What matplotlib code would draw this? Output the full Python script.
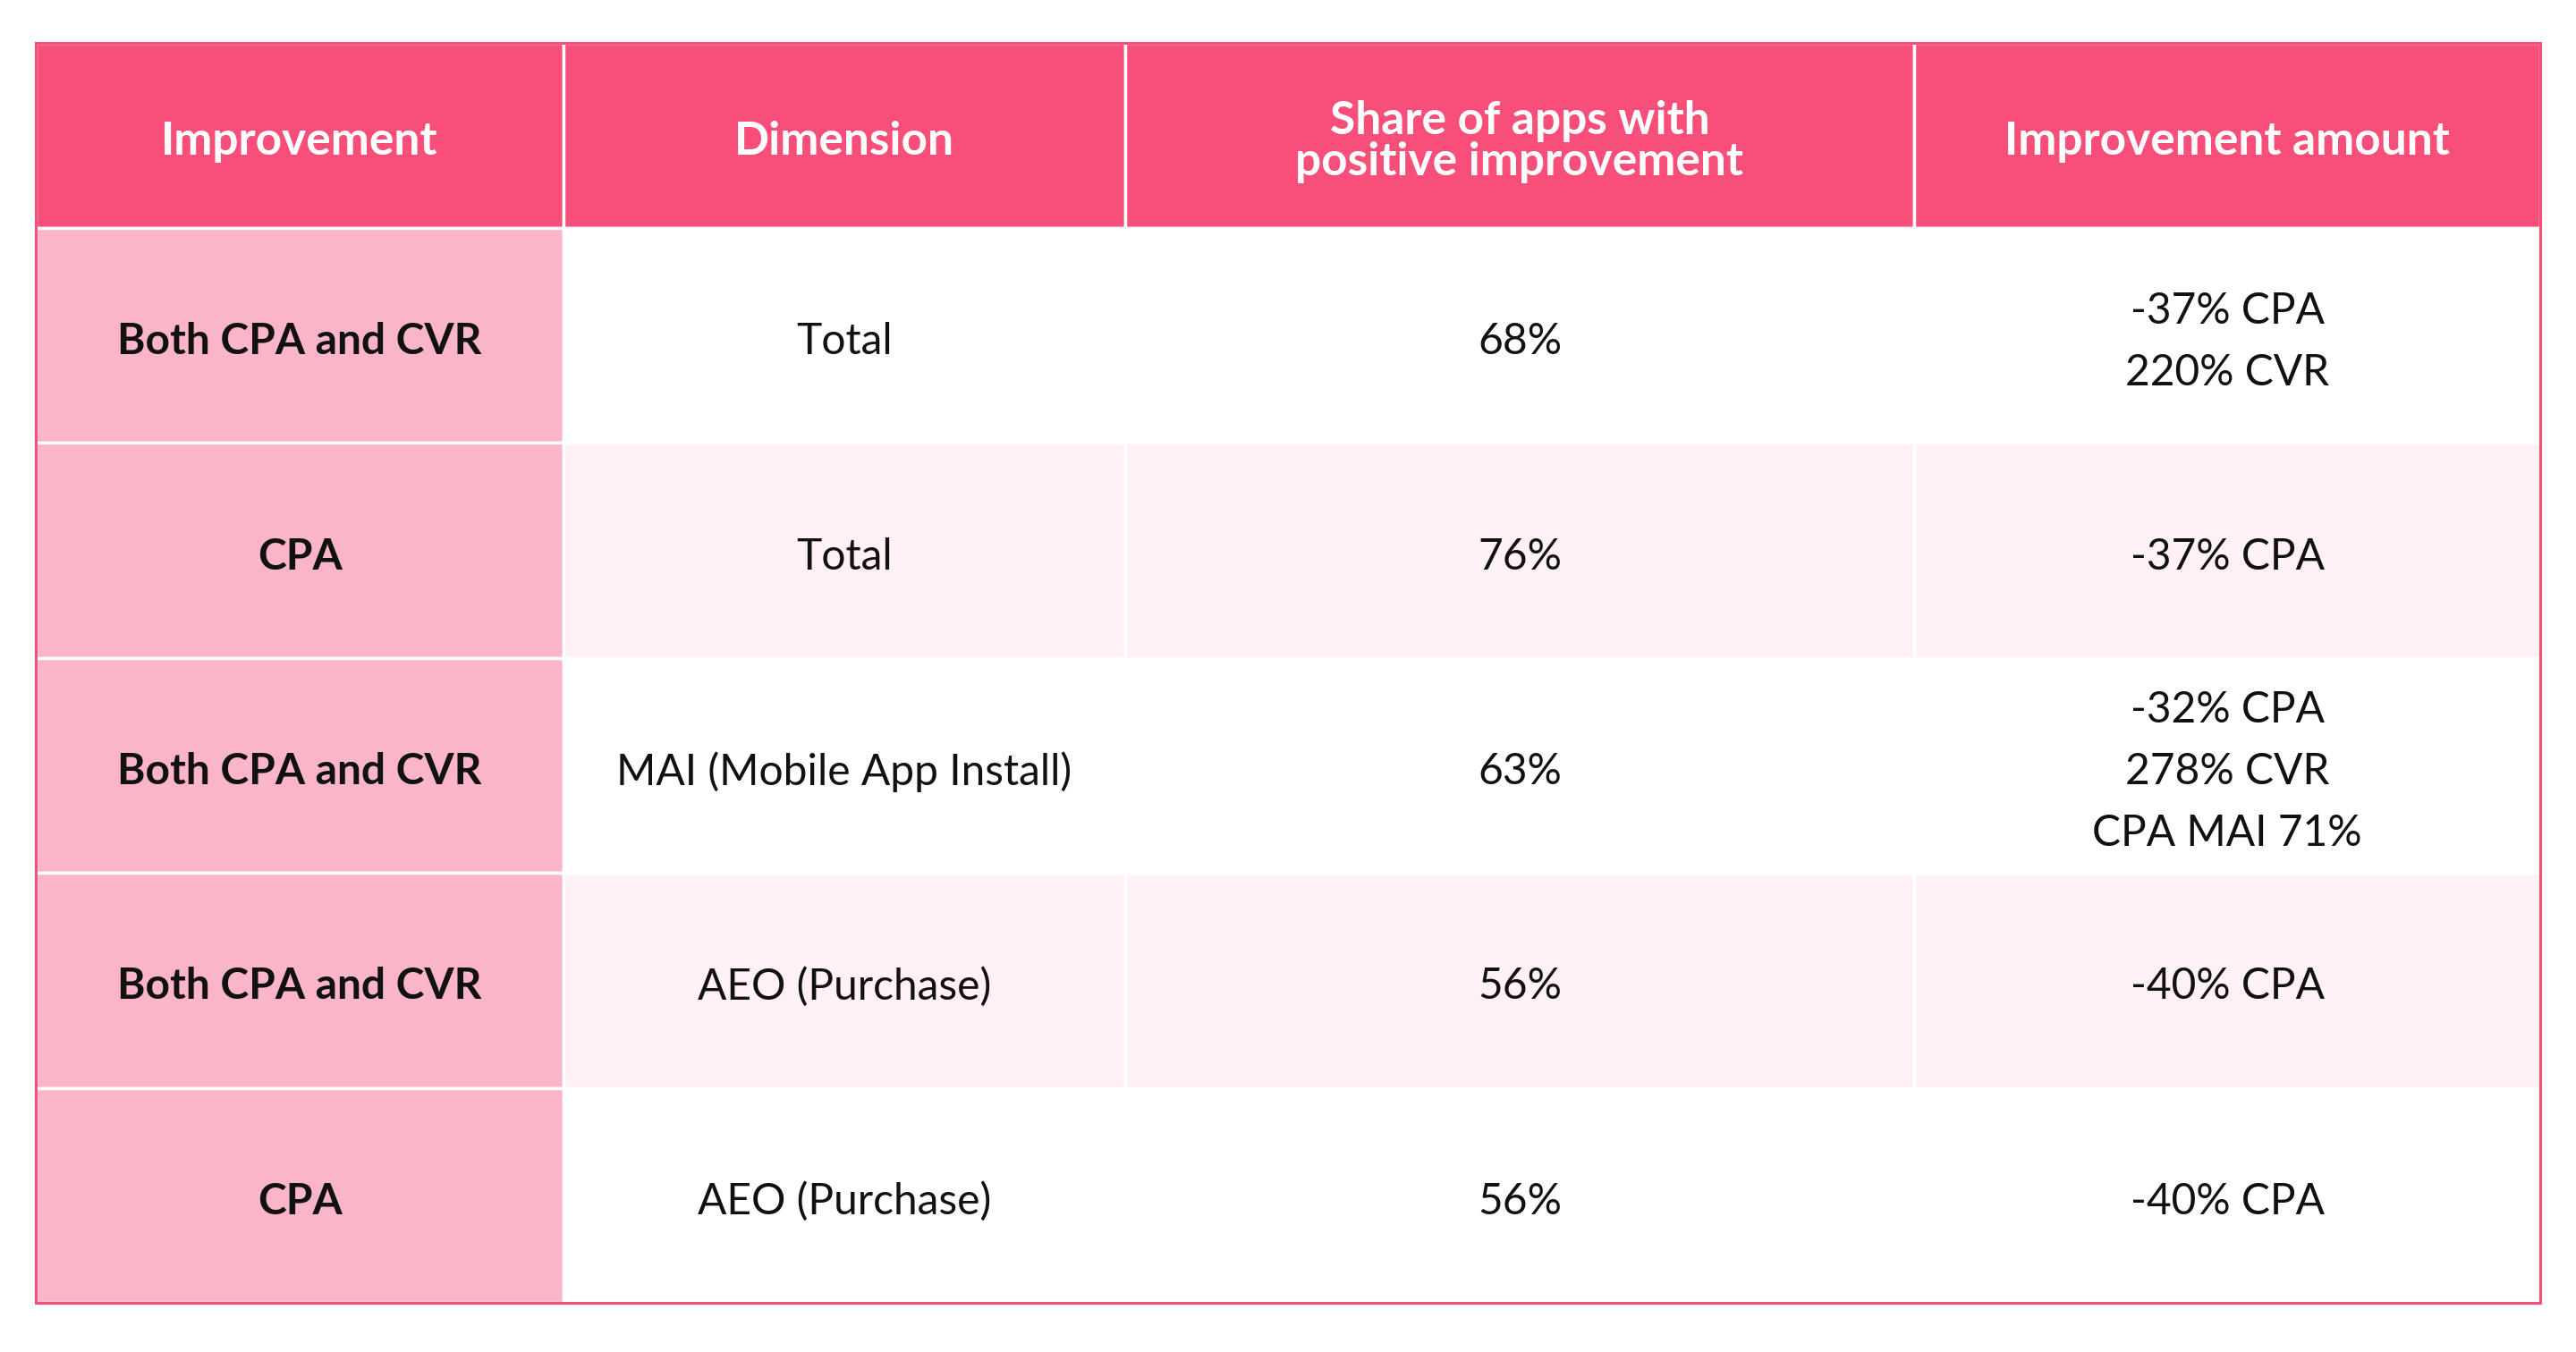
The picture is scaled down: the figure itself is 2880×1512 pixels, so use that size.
import matplotlib.pyplot as plt
from matplotlib.patches import Rectangle

# table content
headers = ['Improvement', 'Dimension', 'Share of apps with\npositive improvement', 'Improvement amount']
improvement = ['Both CPA and CVR', 'CPA', 'Both CPA and CVR', 'Both CPA and CVR', 'CPA']
dimension = ['Total', 'Total', 'MAI (Mobile App Install)', 'AEO (Purchase)', 'AEO (Purchase)']
share = ['68%', '76%', '63%', '56%', '56%']
amount = ['-37% CPA\n220% CVR', '-37% CPA', '-32% CPA\n278% CVR\nCPA MAI 71%', '-40% CPA', '-40% CPA']

# layout (pixel space of the 2880x1512 canvas)
col_edges = [40, 630, 1258, 2140, 2840]
header_top, header_bottom = 48, 255
row_h = 240.4
text_dy = 7  # text sits slightly below the cell centre

head_color = '#F74F7A'
first_col_color = '#FBB5C8'
stripe_color = '#FFF1F5'
border_color = '#F5507A'

plt.rcParams['font.family'] = ['Lato', 'DejaVu Sans']

fig = plt.figure(figsize=(28.8, 15.12), dpi=100)
ax = fig.add_axes([0, 0, 1, 1])
ax.set_xlim(0, 2880)
ax.set_ylim(1512, 0)
ax.axis('off')

# header
for i, h in enumerate(headers):
    x0, x1 = col_edges[i], col_edges[i + 1]
    ax.add_patch(Rectangle((x0, header_top), x1 - x0, header_bottom - header_top,
                           facecolor=head_color, edgecolor='white', linewidth=2.5))
    ax.text((x0 + x1) / 2, (header_top + header_bottom) / 2 + text_dy, h, ha='center', va='center',
            color='white', fontsize=37, fontweight='bold', linespacing=0.95)

# body
rows = list(zip(improvement, dimension, share, amount))
for r, row in enumerate(rows):
    y0 = header_bottom + r * row_h
    for c, val in enumerate(row):
        x0, x1 = col_edges[c], col_edges[c + 1]
        if c == 0:
            fc = first_col_color
        elif r % 2 == 1:
            fc = stripe_color
        else:
            fc = 'white'
        ax.add_patch(Rectangle((x0, y0), x1 - x0, row_h, facecolor=fc,
                               edgecolor='white', linewidth=2.5))
        ax.text((x0 + x1) / 2, y0 + row_h / 2 + text_dy, val, ha='center', va='center',
                color='#111111', fontsize=34.5, linespacing=1.7,
                fontweight='bold' if c == 0 else 'normal')

# outer border
ax.add_patch(Rectangle((col_edges[0], header_top), col_edges[-1] - col_edges[0],
                       header_bottom + len(rows) * row_h - header_top,
                       facecolor='none', edgecolor=border_color, linewidth=2.2))

fig.savefig('out.png', dpi=100, facecolor='white')
